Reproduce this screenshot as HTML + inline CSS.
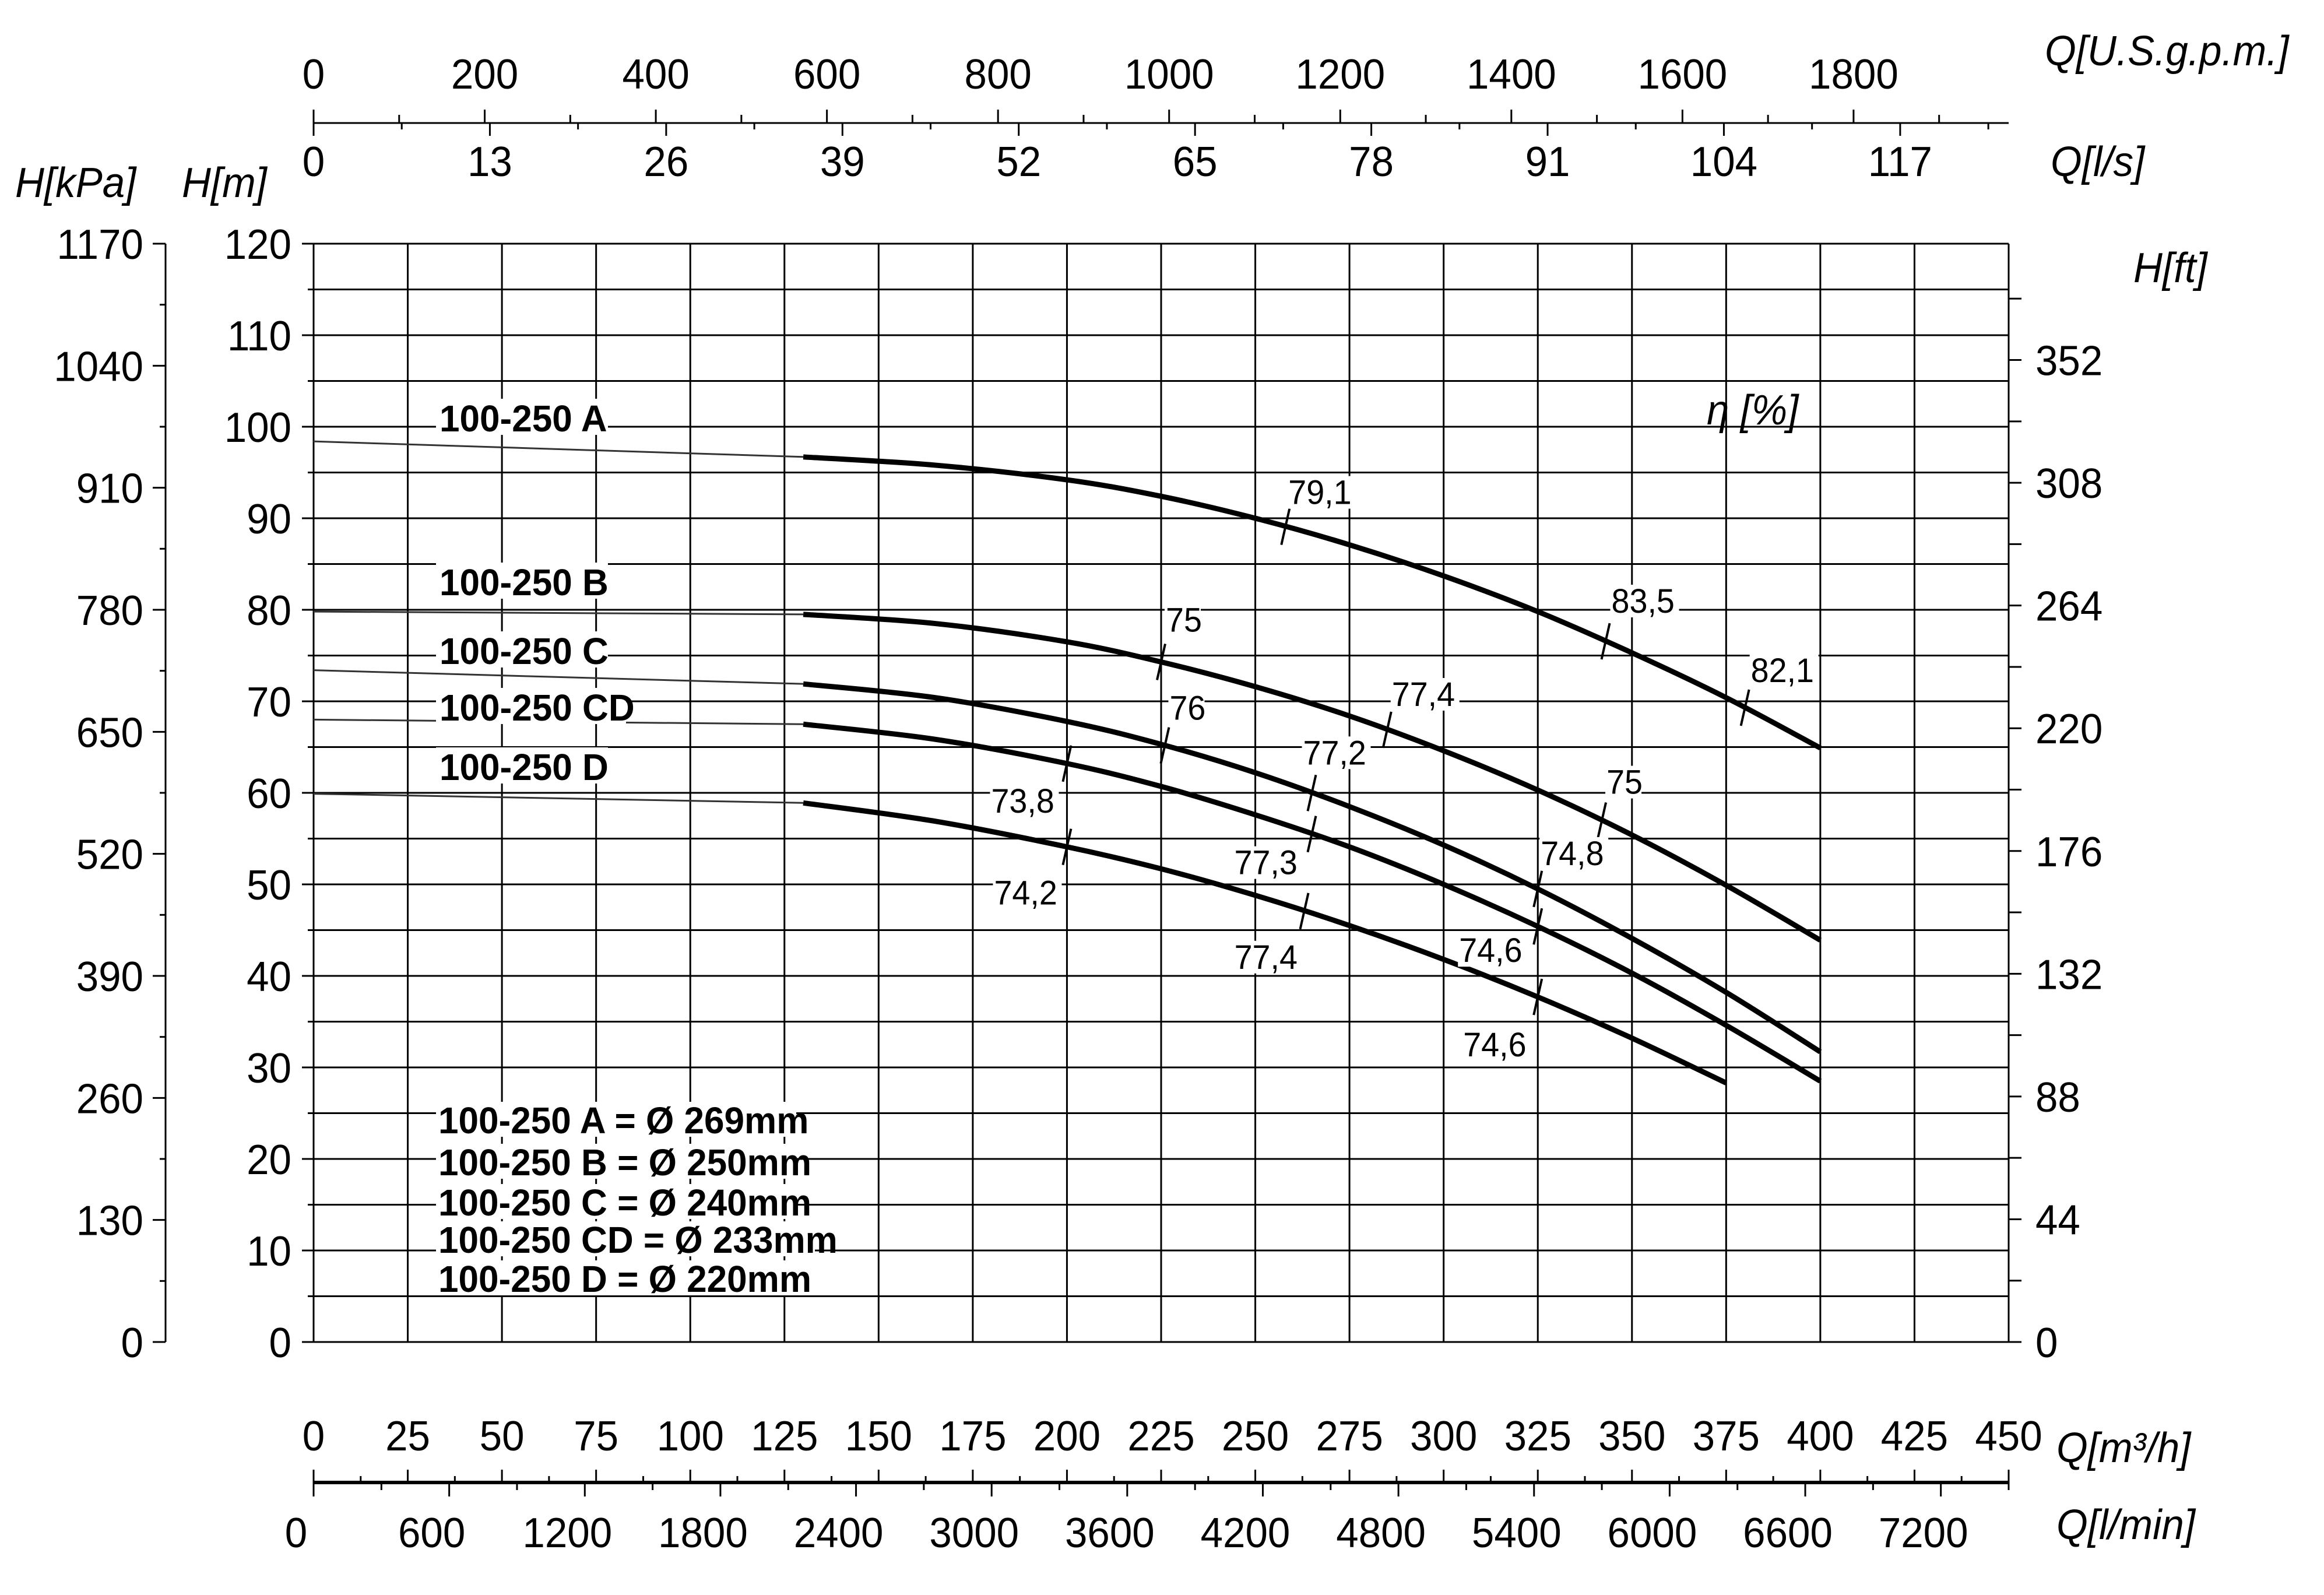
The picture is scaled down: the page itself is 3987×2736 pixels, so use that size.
<!DOCTYPE html>
<html><head><meta charset="utf-8"><style>
html,body{margin:0;padding:0;background:#fff;}
svg{display:block;}
text{font-family:"Liberation Sans",sans-serif;fill:#000;}
</style></head><body>
<svg id="chart" xmlns="http://www.w3.org/2000/svg" width="3987" height="2736" viewBox="0 0 3987 2736">
<g id="grid"></g>
<g id="axes"></g>
<g id="curves"></g>
<g id="labels"></g>
</svg>
<script>
// ---- data ----
const seriesNames = ["100-250 A","100-250 B","100-250 C","100-250 CD","100-250 D"];
const flowA = [130,165,200,225,250,275,300,325,350,375,400];
const headA = [96.7,95.8,94.2,92.4,90.0,87.1,83.7,79.8,75.3,70.4,64.9];
const flowB = [130,165,200,225,250,275,300,325,350,375,400];
const headB = [79.5,78.5,76.5,74.3,71.6,68.4,64.6,60.3,55.4,49.9,43.9];
const flowC = [130,165,200,225,250,275,300,325,350,375,400];
const headC = [71.9,70.4,67.8,65.3,62.2,58.5,54.3,49.5,44.1,38.2,31.7];
const flowCD = [130,165,200,225,250,275,300,325,350,375,400];
const headCD = [67.5,65.85,63.2,60.7,57.6,54.1,50.0,45.4,40.3,34.6,28.5];
const flowD = [130,165,200,225,250,275,300,325,350,375];
const headD = [58.9,56.9,54.1,51.7,48.8,45.5,41.8,37.7,33.2,28.3];
const shutoffHead = [98.4,79.8,73.4,68.0,59.9];
const diameterLegend = ["100-250 A = Ø 269mm","100-250 B = Ø 250mm","100-250 C = Ø 240mm","100-250 CD = Ø 233mm","100-250 D = Ø 220mm"];
const effSeries = [0,0,0,1,1,1,2,2,2,3,3,3,4,4,4];
const effFlow = [258,343,380,225,285,342,226,265,325,200,265,325,200,263,325];
const effValue = ["79,1","83,5","82,1","75","77,4","75","76","77,2","74,8","73,8","77,3","74,6","74,2","77,4","74,6"];
const m3hTicks = [0,25,50,75,100,125,150,175,200,225,250,275,300,325,350,375,400,425,450];
const lminTicks = [0,600,1200,1800,2400,3000,3600,4200,4800,5400,6000,6600,7200];
const gpmTicks = [0,200,400,600,800,1000,1200,1400,1600,1800];
const lsTicks = [0,13,26,39,52,65,78,91,104,117];
const mTicks = [0,10,20,30,40,50,60,70,80,90,100,110,120];
const kpaTicks = [0,130,260,390,520,650,780,910,1040,1170];
const ftTicks = [0,44,88,132,176,220,264,308,352];

// ---- scales ----
const X0=538, X1=3446, Y0=2302, Y1=418;
const xs = q => X0 + q*(X1-X0)/450;
const ys = h => Y0 - h*(Y0-Y1)/120;
const NS="http://www.w3.org/2000/svg";
const G = id => document.getElementById(id);
function line(p,x1,y1,x2,y2,w,c){const e=document.createElementNS(NS,'line');e.setAttribute('x1',x1);e.setAttribute('y1',y1);e.setAttribute('x2',x2);e.setAttribute('y2',y2);e.setAttribute('stroke',c||'#000');e.setAttribute('stroke-width',w);p.appendChild(e);return e;}
function txt(p,x,y,s,size,anchor,opts){opts=opts||{};const e=document.createElementNS(NS,'text');e.setAttribute('transform','translate('+x+','+y+') scale('+(opts.sx||0.96)+',1)');e.setAttribute('font-size',size);e.setAttribute('text-anchor',anchor||'start');if(opts.bold)e.setAttribute('font-weight','bold');if(opts.italic)e.setAttribute('font-style','italic');e.textContent=s;p.appendChild(e);return e;}
function rect(p,x,y,w,h){const e=document.createElementNS(NS,'rect');e.setAttribute('x',x);e.setAttribute('y',y);e.setAttribute('width',w);e.setAttribute('height',h);e.setAttribute('fill','#fff');p.appendChild(e);return e;}

// ---- grid ----
const grid=G('grid');
for(let h=0;h<=120;h+=5){const l=line(grid,(h%10===0)?518:528,ys(h),X1,ys(h),3);

}
for(let q=0;q<=450;q+=25){const l=line(grid,xs(q),Y1,xs(q),Y0,3);

}

// ---- axes ----
const ax=G('axes');
mTicks.forEach(v=>{const t=txt(ax,500,ys(v)+26,String(v),72,'end');

});
line(ax,284,Y1,284,Y0,3);
for(let k=0;k<=1170;k+=65){const h=k*120/1170;line(ax,(k%130===0)?262:274,ys(h),284,ys(h),3);}
kpaTicks.forEach(v=>{const t=txt(ax,246,ys(v*120/1170)+26,String(v),72,'end');

});
for(let f=0;f<=374;f+=22){const h=f*0.3048;line(ax,X1,ys(h),X1+22,ys(h),3);}
ftTicks.forEach(v=>{const t=txt(ax,3492,ys(v*0.3048)+26,String(v),72,'start');

});
line(ax,X0,211,X1,211,3);
for(let g=0;g<=1900;g+=100){const q=g*0.227125;if(q>450)break;line(ax,xs(q),211,xs(q),(g%200===0)?188:197,3);}
for(let l=0;l<=125;l+=6.5){const q=l*3.6;if(q>450)break;line(ax,xs(q),211,xs(q),(Math.round(l*10)%130===0)?233:222,3);}
gpmTicks.forEach(v=>{const t=txt(ax,xs(v*0.227125),152,String(v),72,'middle');

});
lsTicks.forEach(v=>{const t=txt(ax,xs(v*3.6),302,String(v),72,'middle');

});
line(ax,X0,2543,X1,2543,6);
for(let q=0;q<=450;q+=12.5){line(ax,xs(q),2543,xs(q),(q%25===0)?2521:2532,3);}
for(let l=0;l<=7500;l+=300){const q=l*0.06;if(q>450)break;line(ax,xs(q),2543,xs(q),(l%600===0)?2567:2556,3);}
m3hTicks.forEach(v=>{const t=txt(ax,xs(v),2488,String(v),72,'middle');

});
lminTicks.forEach(v=>{const t=txt(ax,xs(v*0.06)-30,2654,String(v),72,'middle');

});
[[3508,112,'Q[U.S.g.p.m.]','gpm-axis-title'],[3518,302,'Q[l/s]','ls-axis-title'],[26,338,'H[kPa]','kpa-axis-title'],
 [312,338,'H[m]','m-axis-title'],[3660,484,'H[ft]','ft-axis-title'],[3528,2508,'Q[m³/h]','m3h-axis-title'],[3528,2640,'Q[l/min]','lmin-axis-title']]
 .forEach(a=>{const t=txt(ax,a[0],a[1],a[2],72,'start',{italic:true});
 
 });
const eta=txt(ax,2928,728,'η [%]',72,'start',{italic:true});



// ---- curves ----
const cv=G('curves');
const flows=[flowA,flowB,flowC,flowCD,flowD], heads=[headA,headB,headC,headCD,headD];
function pathFor(qs,hs){const p=qs.map((q,i)=>[xs(q),ys(hs[i])]);let d='M'+p[0][0]+','+p[0][1];
for(let i=0;i<p.length-1;i++){const p0=p[i-1]||p[i],p1=p[i],p2=p[i+1],p3=p[i+2]||p2;
const c1=[p1[0]+(p2[0]-p0[0])/6,p1[1]+(p2[1]-p0[1])/6],c2=[p2[0]-(p3[0]-p1[0])/6,p2[1]-(p3[1]-p1[1])/6];
d+=' C'+c1[0]+','+c1[1]+' '+c2[0]+','+c2[1]+' '+p2[0]+','+p2[1];}return d;}
function interp(qs,hs,q){for(let i=0;i<qs.length-1;i++){if(q>=qs[i]&&q<=qs[i+1]){const t=(q-qs[i])/(qs[i+1]-qs[i]);return hs[i]+t*(hs[i+1]-hs[i]);}}return hs[hs.length-1];}
const lbl=G('labels');
flows.forEach((qs,i)=>{
  const ext=line(cv,xs(0),ys(shutoffHead[i]),xs(qs[0]),ys(heads[i][0]),3,'#333');
  
  
  const p=document.createElementNS(NS,'path');p.setAttribute('d',pathFor(qs,heads[i]));p.setAttribute('fill','none');p.setAttribute('stroke','#000');p.setAttribute('stroke-width',9);
  
  
  cv.appendChild(p);
});
const nameY=[718,999,1117,1214,1316];
seriesNames.forEach((n,i)=>{rect(lbl,748,nameY[i]-34,n.length*31+16,62);const t=txt(lbl,754,nameY[i]+22,n,64,'start',{bold:true,sx:0.97});

});
const legY=[1922,1994,2063,2127,2194];
diameterLegend.forEach((n,i)=>{rect(lbl,748,legY[i]-32,n.length*32+10,60);const t=txt(lbl,752,legY[i]+22,n,64,'start',{bold:true,sx:0.97});

});
const effDx=[5,10,10,8,8,8,8,-15,5,-130,-133,-135,-125,-120,-128];
const effDy=[-59,-69,-64,-72,-61,-66,-64,-69,-61,64,49,41,79,79,82];
effFlow.forEach((q,k)=>{const s=effSeries[k];const h=interp(flows[s],heads[s],q);const x=xs(q),y=ys(h);
  const m=line(lbl,x-7,y+31,x+7,y-31,4);
  
  
  const tx=x+effDx[k],ty=y+effDy[k];
  rect(lbl,tx-2,ty-28,effValue[k].length*28+6,56);
  const t=txt(lbl,tx,ty+20,effValue[k],58,'start');
  
  });
</script>
</body></html>
